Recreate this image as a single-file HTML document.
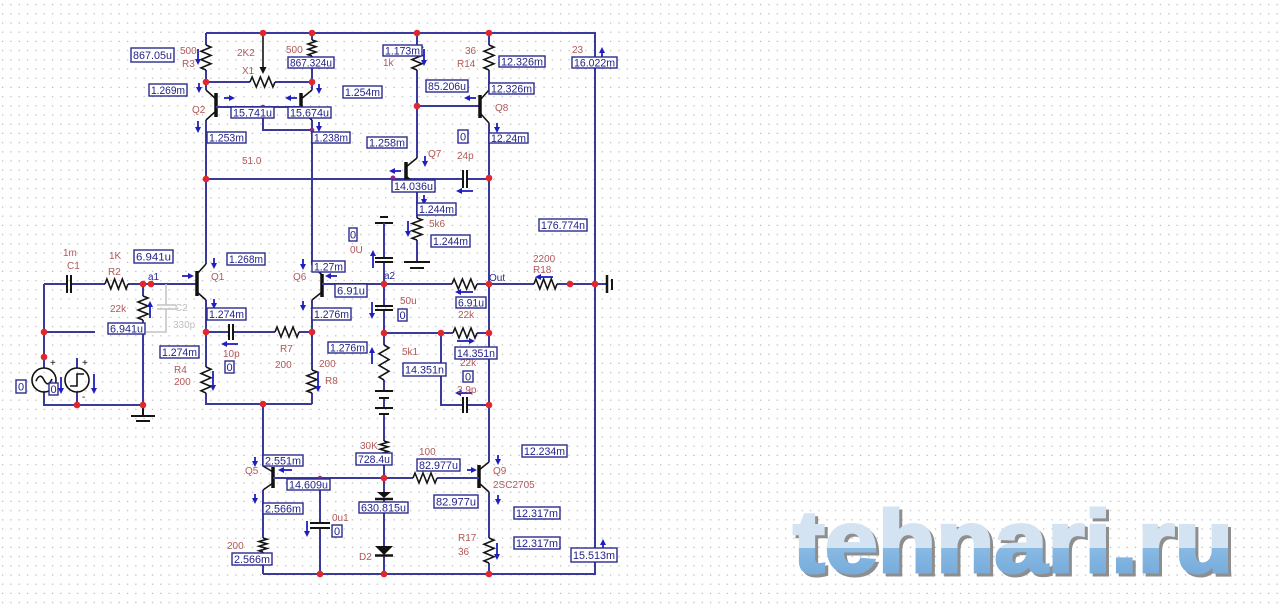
<!DOCTYPE html>
<html><head><meta charset="utf-8"><style>
html,body{margin:0;padding:0;background:#fff;}
svg{display:block}
.w{stroke:#3a3a9c;stroke-width:2;fill:none}
.k{stroke:#141414;stroke-width:1.6;fill:none}
.bar{stroke:#111;stroke-width:3.5}
.g{stroke:#c4c4c4;stroke-width:1.6;fill:none}
.d{fill:#e2262e}
.bx rect{fill:#fff;stroke:#2a2a90;stroke-width:1.4}
.bx text{font-family:"Liberation Sans",sans-serif;font-size:11px;fill:#23238a}
.l{font-family:"Liberation Sans",sans-serif;font-size:10px;fill:#b25858}
.n{font-family:"Liberation Sans",sans-serif;font-size:10px;fill:#2a2a90}
.gl{font-family:"Liberation Sans",sans-serif;font-size:10px;fill:#c0c0c0}
.a{stroke:#1f1fc0;stroke-width:1.8}
</style></head><body>
<svg width="1280" height="607" viewBox="0 0 1280 607" xmlns="http://www.w3.org/2000/svg">
<defs>
<pattern id="grid" width="8.33" height="9.2" patternUnits="userSpaceOnUse" x="-0.5" y="-4">
<rect x="2.5" y="8" width="1.2" height="1.2" fill="#b4b4b4"/>
</pattern>
<marker id="ah" markerWidth="6" markerHeight="6" refX="4" refY="3" orient="auto" markerUnits="userSpaceOnUse">
<path d="M0,0 L6,3 L0,6 z" fill="#1f1fc0"/>
</marker>
<marker id="kh" markerWidth="7" markerHeight="7" refX="5" refY="3.5" orient="auto" markerUnits="userSpaceOnUse">
<path d="M0,0 L7,3.5 L0,7 z" fill="#111"/>
</marker>
<linearGradient id="wm" gradientUnits="userSpaceOnUse" x1="0" y1="507" x2="0" y2="573">
<stop offset="0" stop-color="#d3e3f2"/>
<stop offset="0.62" stop-color="#d3e3f2"/>
<stop offset="0.62" stop-color="#88bae3"/>
<stop offset="1" stop-color="#78acdb"/>
</linearGradient>
</defs>
<rect width="1280" height="607" fill="#fff"/>
<rect width="1280" height="607" fill="url(#grid)"/>

<!-- watermark -->
<text x="796" y="575" font-family="Liberation Sans, sans-serif" font-weight="bold" font-size="88" textLength="440" lengthAdjust="spacingAndGlyphs" fill="#8e8e8e" stroke="#8e8e8e" stroke-width="3">tehnari.ru</text>
<text x="793" y="572" font-family="Liberation Sans, sans-serif" font-weight="bold" font-size="88" textLength="440" lengthAdjust="spacingAndGlyphs" fill="url(#wm)" stroke="url(#wm)" stroke-width="3">tehnari.ru</text>

<!-- ===== WIRES ===== -->
<path class="w" d="M206 33 H595 V574 H263"/>
<path class="w" d="M206 33 V45 M206 70 V90 M206 120 V264 M206 300 V367 M206 393 V404 H312 M312 393 V404"/>
<polyline class="k" points="206,45 211,47.1 201,51.3 211,55.4 201,59.6 211,63.8 201,67.9 206,70"/>
<path class="w" d="M312 33 V40 M312 56 V90 M312 120 V265 M312 300 V370"/>
<polyline class="k" points="312,40 316,41.3 308,44 316,46.7 308,49.3 316,52 308,54.7 312,56"/>
<polyline class="k" points="312,370 317,371.9 307,375.8 317,379.6 307,383.4 317,387.3 307,391.1 312,393"/>
<path class="w" d="M206 82 H250 M275 82 H312"/>
<polyline class="k" points="250,82 252.1,77 256.3,87 260.4,77 264.6,87 268.8,77 272.9,87 275,82"/>
<path class="k" d="M263 33 V72" marker-end="url(#kh)"/>
<path class="k" d="M206 90 L216 99 M216 111 L206 120"/>
<line class="bar" x1="216" y1="93" x2="216" y2="117"/>
<path class="k" d="M312 90 L301 99 M301 111 L312 120"/>
<line class="bar" x1="301" y1="93" x2="301" y2="117"/>
<path class="w" d="M216 107 H301 M263 107 V130 H312"/>
<path class="w" d="M206 179 H463 M467 179 H489"/>
<path class="k" d="M463 170 V188 M467 170 V188" style="stroke-width:2"/>
<path class="w" d="M417 33 V45 M417 70 V158 M417 186 V218 M417 240 V262"/>
<polyline class="k" points="417,45 422,47.1 412,51.3 422,55.4 412,59.6 422,63.8 412,67.9 417,70"/>
<path class="k" d="M406 167 L417 158 M406 176 L417 186"/>
<line class="bar" x1="406" y1="162" x2="406" y2="181"/>
<polyline class="k" points="417,218 422,219.8 412,223.5 422,227.2 412,230.8 422,234.5 412,238.2 417,240"/>
<path class="k" d="M404 262 H430 M410 268 H424" style="stroke-width:2"/>
<path class="w" d="M417 106 H480"/>
<path class="w" d="M489 33 V45 M489 70 V90 M489 123 V462 M489 492 V538 M489 563 V574"/>
<polyline class="k" points="489,45 494,47.1 484,51.3 494,55.4 484,59.6 494,63.8 484,67.9 489,70"/>
<path class="k" d="M480 100 L489 90 M480 113 L489 123"/>
<line class="bar" x1="480" y1="95" x2="480" y2="118"/>
<path class="k" d="M479 470 L489 462 M479 483 L489 492"/>
<line class="bar" x1="479" y1="465" x2="479" y2="488"/>
<polyline class="k" points="489,538 494,540.1 484,544.3 494,548.4 484,552.6 494,556.8 484,560.9 489,563"/>
<path class="w" d="M44 284 H67 M71 284 H105 M128 284 H197"/>
<path class="k" d="M67 275 V293 M71 275 V293" style="stroke-width:2"/>
<polyline class="k" points="105,284 106.9,279 110.8,289 114.6,279 118.4,289 122.3,279 126.1,289 128,284"/>
<path class="w" d="M44 284 V368 M44 392 V405 H143 M44 332 H95 M77 358 V368 M77 392 V405"/>
<circle cx="44" cy="380" r="12" fill="none" stroke="#111" stroke-width="1.6"/>
<path class="k" d="M36 381 Q40 372 44 380 Q48 388 52 379"/>
<circle cx="77" cy="380" r="12" fill="none" stroke="#111" stroke-width="1.6"/>
<path class="k" d="M70 386 H77 V374 H84"/>
<text x="50" y="366" class="l" style="fill:#111">+</text>
<text x="82" y="366" class="l" style="fill:#111">+</text>
<text x="82" y="400" class="l" style="fill:#111">-</text>
<path class="w" d="M143 284 V296 M143 320 V405"/>
<polyline class="k" points="143,296 148,298 138,302 148,306 138,310 148,314 138,318 143,320"/>
<path class="k" d="M143 405 V416 M131 416 H155 M136 421 H150" style="stroke-width:2"/>
<path class="g" d="M166 284 V305 M166 309 V332 H146 M157 305 H176 M157 309 H176"/>
<path class="k" d="M206 264 L197 274 M197 292 L206 300"/>
<line class="bar" x1="197" y1="271" x2="197" y2="296"/>
<path class="k" d="M312 265 L322 275 M322 292 L312 300"/>
<line class="bar" x1="322" y1="274" x2="322" y2="297"/>
<path class="w" d="M322 284 H452 M477 284 H534 M557 284 H607"/>
<polyline class="k" points="452,284 454.1,279 458.3,289 462.4,279 466.6,289 470.8,279 474.9,289 477,284"/>
<polyline class="k" points="534,284 535.9,279 539.8,289 543.6,279 547.4,289 551.3,279 555.1,289 557,284"/>
<path class="k" d="M607 275 V293" style="stroke-width:2.5"/>
<path class="k" d="M612 279 V290" style="stroke-width:2"/>
<path class="w" d="M206 332 H229 M233 332 H275 M299 332 H312"/>
<path class="k" d="M229 324 V340 M233 324 V340" style="stroke-width:2"/>
<polyline class="k" points="275,332 277,327 281,337 285,327 289,337 293,327 297,337 299,332"/>
<polyline class="k" points="206,367 211,369.2 201,373.5 211,377.8 201,382.2 211,386.5 201,390.8 206,393"/>
<path class="k" d="M380 217 H388 M375 223 H393" style="stroke-width:2"/>
<path class="w" d="M384 223 V258 M384 262 V306 M384 310 V345 M384 380 V391 M384 398 V408 M384 414 V441 M384 455 V492 M384 499 V546 M384 555 V574"/>
<path class="k" d="M375 258 H393 M375 262 H393 M375 306 H393 M375 310 H393" style="stroke-width:2"/>
<polyline class="k" points="384,345 389,347.9 379,353.7 389,359.6 379,365.4 389,371.2 379,377.1 384,380"/>
<path class="k" d="M375 391 H393 M379 398 H389 M375 408 H393 M379 414 H389" style="stroke-width:2"/>
<polyline class="k" points="384,441 388,442.2 380,444.5 388,446.8 380,449.2 388,451.5 380,453.8 384,455"/>
<polygon points="377,492 391,492 384,498" fill="#111"/>
<path class="k" d="M375 499 H393" style="stroke-width:2.5"/>
<polygon points="375,546 393,546 384,555" fill="#111"/>
<path class="k" d="M375 555.5 H393" style="stroke-width:2.5"/>
<path class="w" d="M384 333 H453 M477 333 H489 M441 333 V405 H463 M467 405 H489"/>
<polyline class="k" points="453,333 455,328 459,338 463,328 467,338 471,328 475,338 477,333"/>
<path class="k" d="M463 397 V413 M467 397 V413" style="stroke-width:2"/>
<path class="w" d="M263 404 V466 M263 490 V538 M263 552 V574"/>
<path class="k" d="M273 472 L263 466 M273 483 L263 490"/>
<line class="bar" x1="273" y1="467" x2="273" y2="488"/>
<polyline class="k" points="263,538 267,539.2 259,541.5 267,543.8 259,546.2 267,548.5 259,550.8 263,552"/>
<path class="w" d="M273 478 H413 M437 478 H479 M320 478 V523 M320 528 V574"/>
<polyline class="k" points="413,478 415,473 419,483 423,473 427,483 431,473 435,483 437,478"/>
<path class="k" d="M310 523 H330 M310 528 H330" style="stroke-width:2"/>

<g class="d">
<circle cx="206" cy="82" r="3.3"/><circle cx="263" cy="33" r="3.3"/><circle cx="312" cy="33" r="3.3"/>
<circle cx="312" cy="82" r="3.3"/><circle cx="417" cy="33" r="3.3"/><circle cx="489" cy="33" r="3.3"/>
<circle cx="206" cy="179" r="3.3"/><circle cx="417" cy="106" r="3.3"/><circle cx="489" cy="178" r="3.3"/>
<circle cx="143" cy="284" r="3.3"/><circle cx="151" cy="284" r="3.3"/><circle cx="44" cy="332" r="3.3"/>
<circle cx="44" cy="357" r="3.3"/><circle cx="77" cy="405" r="3.3"/><circle cx="143" cy="405" r="3.3"/>
<circle cx="206" cy="332" r="3.3"/><circle cx="312" cy="332" r="3.3"/><circle cx="384" cy="284" r="3.3"/>
<circle cx="489" cy="284" r="3.3"/><circle cx="570" cy="284" r="3.3"/><circle cx="595" cy="284" r="3.3"/>
<circle cx="384" cy="333" r="3.3"/><circle cx="441" cy="333" r="3.3"/><circle cx="489" cy="333" r="3.3"/>
<circle cx="489" cy="405" r="3.3"/><circle cx="263" cy="404" r="3.3"/><circle cx="384" cy="478" r="3.3"/>
<circle cx="320" cy="574" r="3.3"/><circle cx="384" cy="574" r="3.3"/><circle cx="489" cy="574" r="3.3"/>
</g>
<circle cx="393" cy="178" r="2.5" fill="#8a2a8a"/>
<circle cx="263" cy="107" r="2.3" fill="#8a2a8a"/>
<circle cx="312" cy="130" r="2.3" fill="#8a2a8a"/>
<circle cx="320" cy="478" r="2.3" fill="#8a2a8a"/>

<g class="a">
<line x1="198" y1="49" x2="198" y2="63" marker-end="url(#ah)"/>
<line x1="199" y1="83" x2="199" y2="91" marker-end="url(#ah)"/>
<line x1="224" y1="98" x2="233" y2="98" marker-end="url(#ah)"/>
<line x1="297" y1="98" x2="287" y2="98" marker-end="url(#ah)"/>
<line x1="319" y1="84" x2="319" y2="92" marker-end="url(#ah)"/>
<line x1="198" y1="121" x2="198" y2="131" marker-end="url(#ah)"/>
<line x1="319" y1="122" x2="319" y2="130" marker-end="url(#ah)"/>
<line x1="424" y1="49" x2="424" y2="64" marker-end="url(#ah)"/>
<line x1="476" y1="98" x2="466" y2="98" marker-end="url(#ah)"/>
<line x1="497" y1="123" x2="497" y2="131" marker-end="url(#ah)"/>
<line x1="602" y1="57" x2="602" y2="49" marker-end="url(#ah)"/>
<line x1="425" y1="156" x2="425" y2="165" marker-end="url(#ah)"/>
<line x1="401" y1="171" x2="391" y2="171" marker-end="url(#ah)"/>
<line x1="473" y1="191" x2="458" y2="191" marker-end="url(#ah)"/>
<line x1="424" y1="195" x2="424" y2="203" marker-end="url(#ah)"/>
<line x1="408" y1="221" x2="408" y2="235" marker-end="url(#ah)"/>
<line x1="182" y1="276" x2="192" y2="276" marker-end="url(#ah)"/>
<line x1="214" y1="258" x2="214" y2="267" marker-end="url(#ah)"/>
<line x1="150" y1="318" x2="150" y2="303" marker-end="url(#ah)"/>
<line x1="214" y1="299" x2="214" y2="307" marker-end="url(#ah)"/>
<line x1="61" y1="377" x2="61" y2="392" marker-end="url(#ah)"/>
<line x1="94" y1="374" x2="94" y2="392" marker-end="url(#ah)"/>
<line x1="213" y1="371" x2="213" y2="389" marker-end="url(#ah)"/>
<line x1="238" y1="344" x2="223" y2="344" marker-end="url(#ah)"/>
<line x1="303" y1="259" x2="303" y2="268" marker-end="url(#ah)"/>
<line x1="337" y1="276" x2="327" y2="276" marker-end="url(#ah)"/>
<line x1="303" y1="301" x2="303" y2="309" marker-end="url(#ah)"/>
<line x1="373" y1="268" x2="373" y2="252" marker-end="url(#ah)"/>
<line x1="372" y1="302" x2="372" y2="317" marker-end="url(#ah)"/>
<line x1="372" y1="364" x2="372" y2="349" marker-end="url(#ah)"/>
<line x1="318" y1="372" x2="318" y2="390" marker-end="url(#ah)"/>
<line x1="473" y1="292" x2="457" y2="292" marker-end="url(#ah)"/>
<line x1="553" y1="277" x2="537" y2="277" marker-end="url(#ah)"/>
<line x1="457" y1="341" x2="473" y2="341" marker-end="url(#ah)"/>
<line x1="472" y1="393" x2="457" y2="393" marker-end="url(#ah)"/>
<line x1="255" y1="457" x2="255" y2="465" marker-end="url(#ah)"/>
<line x1="292" y1="470" x2="280" y2="470" marker-end="url(#ah)"/>
<line x1="255" y1="494" x2="255" y2="502" marker-end="url(#ah)"/>
<line x1="307" y1="521" x2="307" y2="535" marker-end="url(#ah)"/>
<line x1="467" y1="470" x2="475" y2="470" marker-end="url(#ah)"/>
<line x1="498" y1="455" x2="498" y2="463" marker-end="url(#ah)"/>
<line x1="498" y1="495" x2="498" y2="503" marker-end="url(#ah)"/>
<line x1="497" y1="543" x2="497" y2="558" marker-end="url(#ah)"/>
<line x1="603" y1="549" x2="603" y2="541" marker-end="url(#ah)"/>
</g>

<text class="l" x="180" y="54">500</text>
<text class="l" x="182" y="67">R3</text>
<text class="l" x="237" y="56">2K2</text>
<text class="l" x="242" y="74">X1</text>
<text class="l" x="286" y="53">500</text>
<text class="l" x="192" y="113">Q2</text>
<text class="l" x="242" y="164">51.0</text>
<text class="l" x="383" y="66">1k</text>
<text class="l" x="465" y="54">36</text>
<text class="l" x="457" y="67">R14</text>
<text class="l" x="572" y="53">23</text>
<text class="l" x="495" y="111">Q8</text>
<text class="l" x="428" y="157">Q7</text>
<text class="l" x="457" y="159">24p</text>
<text class="l" x="429" y="227">5k6</text>
<text class="l" x="63" y="256">1m</text>
<text class="l" x="67" y="269">C1</text>
<text class="l" x="109" y="259">1K</text>
<text class="l" x="108" y="275">R2</text>
<text class="n" x="148" y="280">a1</text>
<text class="l" x="211" y="280">Q1</text>
<text class="l" x="110" y="312">22k</text>
<text class="gl" x="175" y="311">C2</text>
<text class="gl" x="173" y="328">330p</text>
<text class="l" x="174" y="373">R4</text>
<text class="l" x="174" y="385">200</text>
<text class="l" x="223" y="357">10p</text>
<text class="l" x="293" y="280">Q6</text>
<text class="l" x="350" y="253">0U</text>
<text class="n" x="384" y="279">a2</text>
<text class="l" x="280" y="352">R7</text>
<text class="l" x="275" y="368">200</text>
<text class="l" x="319" y="367">200</text>
<text class="l" x="325" y="384">R8</text>
<text class="l" x="400" y="304">50u</text>
<text class="l" x="402" y="355">5k1</text>
<text class="n" x="489" y="281">Out</text>
<text class="l" x="533" y="262">2200</text>
<text class="l" x="533" y="273">R18</text>
<text class="l" x="458" y="318">22k</text>
<text class="l" x="460" y="366">22k</text>
<text class="l" x="457" y="393">3.9p</text>
<text class="l" x="360" y="449">30K</text>
<text class="l" x="419" y="455">100</text>
<text class="l" x="245" y="474">Q5</text>
<text class="l" x="493" y="474">Q9</text>
<text class="l" x="493" y="488">2SC2705</text>
<text class="l" x="332" y="521">0u1</text>
<text class="l" x="227" y="549">200</text>
<text class="l" x="359" y="560">D2</text>
<text class="l" x="458" y="541">R17</text>
<text class="l" x="458" y="555">36</text>

<g class="bx">
<rect x="131" y="48" width="43" height="14"/><text x="133" y="59" textLength="39" lengthAdjust="spacingAndGlyphs">867.05u</text>
<rect x="149" y="84" width="38" height="12"/><text x="151" y="94" textLength="34" lengthAdjust="spacingAndGlyphs">1.269m</text>
<rect x="288" y="57" width="46" height="11"/><text x="290" y="66.5" textLength="42" lengthAdjust="spacingAndGlyphs">867.324u</text>
<rect x="231" y="107" width="43" height="11"/><text x="233" y="116.5" textLength="39" lengthAdjust="spacingAndGlyphs">15.741u</text>
<rect x="288" y="107" width="43" height="11"/><text x="290" y="116.5" textLength="39" lengthAdjust="spacingAndGlyphs">15.674u</text>
<rect x="207" y="132" width="39" height="11"/><text x="209" y="141.5" textLength="35" lengthAdjust="spacingAndGlyphs">1.253m</text>
<rect x="312" y="132" width="38" height="11"/><text x="314" y="141.5" textLength="34" lengthAdjust="spacingAndGlyphs">1.238m</text>
<rect x="343" y="86" width="39" height="12"/><text x="345" y="96" textLength="35" lengthAdjust="spacingAndGlyphs">1.254m</text>
<rect x="383" y="45" width="39" height="11"/><text x="385" y="54.5" textLength="35" lengthAdjust="spacingAndGlyphs">1.173m</text>
<rect x="499" y="56" width="46" height="11"/><text x="501" y="65.5" textLength="42" lengthAdjust="spacingAndGlyphs">12.326m</text>
<rect x="426" y="80" width="42" height="12"/><text x="428" y="90" textLength="38" lengthAdjust="spacingAndGlyphs">85.206u</text>
<rect x="489" y="83" width="45" height="11"/><text x="491" y="92.5" textLength="41" lengthAdjust="spacingAndGlyphs">12.326m</text>
<rect x="489" y="133" width="39" height="10"/><text x="491" y="142" textLength="35" lengthAdjust="spacingAndGlyphs">12.24m</text>
<rect x="458" y="130" width="10" height="13"/><text x="463" y="140.5" text-anchor="middle">0</text>
<rect x="572" y="57" width="45" height="11"/><text x="574" y="66.5" textLength="41" lengthAdjust="spacingAndGlyphs">16.022m</text>
<rect x="367" y="137" width="40" height="11"/><text x="369" y="146.5" textLength="36" lengthAdjust="spacingAndGlyphs">1.258m</text>
<rect x="392" y="180" width="43" height="12"/><text x="394" y="190" textLength="39" lengthAdjust="spacingAndGlyphs">14.036u</text>
<rect x="417" y="203" width="39" height="12"/><text x="419" y="213" textLength="35" lengthAdjust="spacingAndGlyphs">1.244m</text>
<rect x="431" y="235" width="39" height="12"/><text x="433" y="245" textLength="35" lengthAdjust="spacingAndGlyphs">1.244m</text>
<rect x="539" y="219" width="48" height="12"/><text x="541" y="229" textLength="44" lengthAdjust="spacingAndGlyphs">176.774n</text>
<rect x="134" y="250" width="39" height="13"/><text x="136" y="260.5" textLength="35" lengthAdjust="spacingAndGlyphs">6.941u</text>
<rect x="108" y="323" width="37" height="11"/><text x="110" y="332.5" textLength="33" lengthAdjust="spacingAndGlyphs">6.941u</text>
<rect x="227" y="253" width="38" height="12"/><text x="229" y="263" textLength="34" lengthAdjust="spacingAndGlyphs">1.268m</text>
<rect x="312" y="261" width="33" height="11"/><text x="314" y="270.5" textLength="29" lengthAdjust="spacingAndGlyphs">1.27m</text>
<rect x="335" y="284" width="32" height="13"/><text x="337" y="294.5" textLength="28" lengthAdjust="spacingAndGlyphs">6.91u</text>
<rect x="349" y="228" width="8" height="13"/><text x="353" y="238.5" text-anchor="middle">0</text>
<rect x="207" y="308" width="39" height="12"/><text x="209" y="318" textLength="35" lengthAdjust="spacingAndGlyphs">1.274m</text>
<rect x="312" y="308" width="39" height="12"/><text x="314" y="318" textLength="35" lengthAdjust="spacingAndGlyphs">1.276m</text>
<rect x="160" y="346" width="39" height="12"/><text x="162" y="356" textLength="35" lengthAdjust="spacingAndGlyphs">1.274m</text>
<rect x="225" y="361" width="9" height="12"/><text x="229.5" y="371" text-anchor="middle">0</text>
<rect x="328" y="342" width="39" height="11"/><text x="330" y="351.5" textLength="35" lengthAdjust="spacingAndGlyphs">1.276m</text>
<rect x="456" y="297" width="30" height="11"/><text x="458" y="306.5" textLength="26" lengthAdjust="spacingAndGlyphs">6.91u</text>
<rect x="398" y="309" width="9" height="12"/><text x="402.5" y="319" text-anchor="middle">0</text>
<rect x="455" y="347" width="42" height="12"/><text x="457" y="357" textLength="38" lengthAdjust="spacingAndGlyphs">14.351n</text>
<rect x="403" y="363" width="43" height="13"/><text x="405" y="373.5" textLength="39" lengthAdjust="spacingAndGlyphs">14.351n</text>
<rect x="463" y="371" width="10" height="11"/><text x="468" y="380.5" text-anchor="middle">0</text>
<rect x="16" y="380" width="10" height="13"/><text x="21" y="390.5" text-anchor="middle">0</text>
<rect x="49" y="383" width="9" height="12"/><text x="53.5" y="393" text-anchor="middle">0</text>
<rect x="263" y="455" width="40" height="11"/><text x="265" y="464.5" textLength="36" lengthAdjust="spacingAndGlyphs">2.551m</text>
<rect x="287" y="479" width="43" height="11"/><text x="289" y="488.5" textLength="39" lengthAdjust="spacingAndGlyphs">14.609u</text>
<rect x="263" y="503" width="40" height="11"/><text x="265" y="512.5" textLength="36" lengthAdjust="spacingAndGlyphs">2.566m</text>
<rect x="332" y="525" width="10" height="12"/><text x="337" y="535" text-anchor="middle">0</text>
<rect x="232" y="553" width="40" height="12"/><text x="234" y="563" textLength="36" lengthAdjust="spacingAndGlyphs">2.566m</text>
<rect x="356" y="453" width="36" height="12"/><text x="358" y="463" textLength="32" lengthAdjust="spacingAndGlyphs">728.4u</text>
<rect x="359" y="502" width="49" height="11"/><text x="361" y="511.5" textLength="45" lengthAdjust="spacingAndGlyphs">630.815u</text>
<rect x="417" y="459" width="43" height="12"/><text x="419" y="469" textLength="39" lengthAdjust="spacingAndGlyphs">82.977u</text>
<rect x="434" y="495" width="44" height="13"/><text x="436" y="505.5" textLength="40" lengthAdjust="spacingAndGlyphs">82.977u</text>
<rect x="522" y="445" width="45" height="12"/><text x="524" y="455" textLength="41" lengthAdjust="spacingAndGlyphs">12.234m</text>
<rect x="514" y="507" width="46" height="12"/><text x="516" y="517" textLength="42" lengthAdjust="spacingAndGlyphs">12.317m</text>
<rect x="514" y="537" width="46" height="12"/><text x="516" y="547" textLength="42" lengthAdjust="spacingAndGlyphs">12.317m</text>
<rect x="571" y="548" width="46" height="14"/><text x="573" y="559" textLength="42" lengthAdjust="spacingAndGlyphs">15.513m</text>
</g>
</svg>
</body></html>
